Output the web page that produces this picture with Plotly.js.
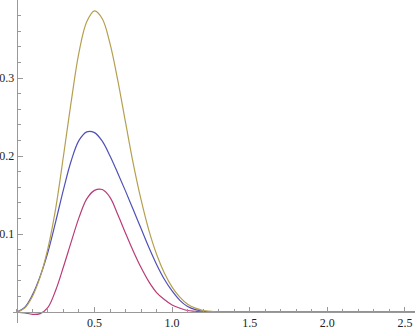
<!DOCTYPE html>
<html>
<head>
<meta charset="utf-8">
<script src="https://cdn.plot.ly/plotly-3.0.1.min.js"></script>
<style>
  html, body { margin: 0; padding: 0; background: white; }
  #graph { width: 415px; height: 332px; }
</style>
</head>
<body>
<div id="graph"></div>
<script>
// x samples shared by the three curves
const xs = [0, 0.05, 0.1, 0.15, 0.2, 0.25, 0.3, 0.35, 0.4, 0.45, 0.5, 0.55, 0.6, 0.65,
            0.7, 0.75, 0.8, 0.85, 0.9, 0.95, 1.0, 1.05, 1.1, 1.15, 1.2, 1.25, 1.3, 1.5, 2.0, 2.6];

const blueVals = [0, 0.006, 0.022, 0.046, 0.077, 0.116, 0.157, 0.194, 0.22, 0.231, 0.23, 0.219, 0.2, 0.178,
                  0.155, 0.131, 0.107, 0.083, 0.061, 0.042, 0.027, 0.015, 0.007, 0.003, 0.001, 0, 0, 0, 0, 0];
const magentaVals = [0, -0.001, -0.003, -0.002, 0.006, 0.028, 0.058, 0.09, 0.121, 0.145, 0.156, 0.157, 0.147, 0.125,
                     0.101, 0.078, 0.057, 0.039, 0.025, 0.016, 0.009, 0.005, 0.002, 0.001, 0, 0, 0, 0, 0, 0];
const oliveVals = [0, 0.005, 0.02, 0.045, 0.082, 0.133, 0.2, 0.27, 0.333, 0.372, 0.386, 0.376, 0.344, 0.297,
                   0.243, 0.19, 0.144, 0.105, 0.074, 0.05, 0.032, 0.019, 0.01, 0.005, 0.002, 0.001, 0, 0, 0, 0];

const xTicks = [0.5, 1.0, 1.5, 2.0, 2.5];
const yTicks = [0.1, 0.2, 0.3];

const curves = [
    { y: blueVals, color: 'rgb(80,80,185)' },
    { y: magentaVals, color: 'rgb(185,60,120)' },
    { y: oliveVals, color: 'rgb(180,160,80)' },
];

const traces = curves.map(c => ({
    x: xs,
    y: c.y,
    mode: 'lines',
    line: { color: c.color, width: 1.2, shape: 'spline', smoothing: 1 },
    hoverinfo: 'none',
}));

const axisColor = '#999';
const serif = 'Liberation Serif';
const tickFont = { family: serif, size: 12, color: '#222' };

const layout = {
    width: 415,
    height: 332,
    font: { family: serif, size: 12, color: '#222' },
    showlegend: false,
    plot_bgcolor: 'white',
    paper_bgcolor: 'white',
    margin: { l: 0, r: 0, t: 0, b: 0 },
    xaxis: {
        domain: [0.031, 1],
        range: [-0.026, 2.565],
        anchor: 'free',
        position: 0.0602,
        showgrid: false,
        zeroline: false,
        showline: true,
        linecolor: axisColor,
        linewidth: 1,
        tickmode: 'array',
        tickvals: xTicks,
        ticktext: xTicks.map(v => v.toFixed(1)),
        ticks: 'inside',
        ticklen: 5,
        tickcolor: axisColor,
        tickfont: tickFont,
        minor: { dtick: 0.1, tick0: 0, ticks: 'inside', ticklen: 3, tickcolor: axisColor, showgrid: false },
    },
    yaxis: {
        domain: [0.027, 1],
        range: [-0.0141, 0.4],
        anchor: 'free',
        position: 0.0398,
        showgrid: false,
        zeroline: false,
        showline: true,
        linecolor: axisColor,
        linewidth: 1,
        tickmode: 'array',
        tickvals: yTicks,
        ticktext: yTicks.map(v => v.toFixed(1)),
        ticks: 'inside',
        ticklen: 5,
        tickcolor: axisColor,
        tickfont: tickFont,
        minor: { dtick: 0.02, tick0: 0, ticks: 'inside', ticklen: 3, tickcolor: axisColor, showgrid: false },
    },
};

Plotly.newPlot('graph', traces, layout, { staticPlot: true });
</script>
</body>
</html>
